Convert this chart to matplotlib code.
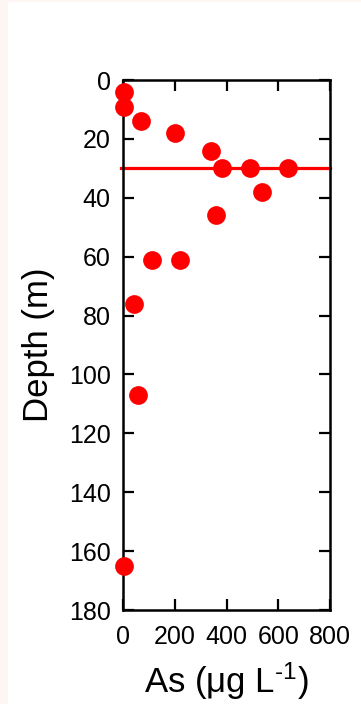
import numpy as np
import matplotlib
matplotlib.use("Agg")
from matplotlib import pyplot as plt
from matplotlib.patches import Rectangle

plt.rcParams['font.family'] = ['Liberation Sans', 'DejaVu Sans']
plt.rcParams['mathtext.fontset'] = 'custom'
plt.rcParams['mathtext.rm'] = 'Liberation Sans'
plt.rcParams['mathtext.it'] = 'Liberation Sans'

# Arsenic (ug/L) vs depth (m)
arsenic = [5, 5, 68, 200, 340, 381, 490, 639, 538, 358, 111, 219, 42, 58, 5]
depth = [4, 9, 14, 18, 24, 30, 30, 30, 38, 46, 61, 61, 76, 107, 165]
line_depth = 30
x_ticks = [0, 200, 400, 600, 800]
y_ticks = [0, 20, 40, 60, 80, 100, 120, 140, 160, 180]

fig = plt.figure(figsize=(3.61, 7.04), dpi=100)
fig.patch.set_facecolor('#fef6f2')
# white panel, pink strips on left and top
fig.add_artist(Rectangle((8 / 361, 0), 1, 702 / 704, transform=fig.transFigure,
                         facecolor='white', edgecolor='none', zorder=-10))

ax = fig.add_axes([123 / 361, 1 - 610 / 704, 207 / 361, 530 / 704])
ax.set_facecolor('none')
ax.set_zorder(5)

ax.plot([-9, 800], [line_depth, line_depth], color='#ff0000', lw=2.3, clip_on=False, zorder=2)
ax.plot(arsenic, depth, 'o', color='#ff0000', markersize=13.5, markeredgewidth=0,
        clip_on=False, zorder=3)

ax.set_xlim(0, 800)
ax.set_ylim(180, 0)
ax.set_xticks(x_ticks)
ax.set_yticks(y_ticks)
ax.tick_params(direction='in', top=True, right=True, length=8, width=1.6,
               labelsize=18)
ax.tick_params(axis='x', pad=11)
ax.tick_params(axis='y', pad=9)
for s in ax.spines.values():
    s.set_linewidth(1.8)

ax.set_xlabel(r'As ($\mu$g L$^{\text{-1}}$)', fontsize=25, labelpad=8)
ax.set_ylabel('Depth (m)', fontsize=25, labelpad=10)

fig.savefig('out.png', dpi=100, facecolor=fig.get_facecolor())
